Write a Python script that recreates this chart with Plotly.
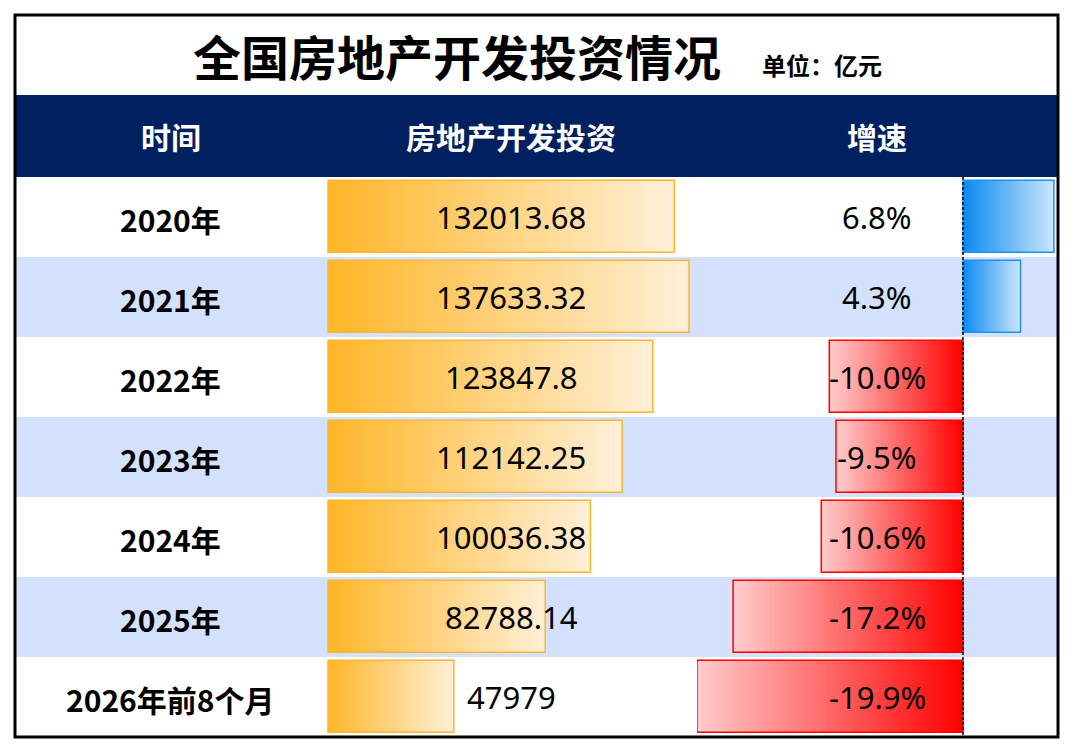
import plotly.graph_objects as go

# --- Données ---
periods = ["2020年", "2021年", "2022年", "2023年", "2024年", "2025年", "2026年前8个月"]
investment = [132013.68, 137633.32, 123847.8, 112142.25, 100036.38, 82788.14, 47979]
growth = [6.8, 4.3, -10.0, -9.5, -10.6, -17.2, -19.9]
headers = ["时间", "房地产开发投资", "增速"]
title = "全国房地产开发投资情况"
unit = "单位：亿元"

# the page body keeps an 8px margin, so the figure is a bit smaller and all
# layout positions below are given in page pixels, shifted by OFF
OFF = 8
W, H = 1076 - 2 * OFF, 754 - 2 * OFF
CJK = "Noto Sans CJK SC"
NUM = "Noto Sans, Noto Sans CJK SC"


def px(v):
    return (v - OFF) / W


def py(v):
    return 1 - (v - OFF) / H


# row i centre at page pixel 217 + 80*i -> y axis in "row" units
y_top = (OFF - 217) / 80
y_bot = (OFF + H - 217) / 80

inv_max = max(investment)
inv_scale = 361 / inv_max                      # px per unit
inv_range = [(327 - 328) / inv_scale, (697 - 328) / inv_scale]
gr_scale = 13.37                                # px per %
gr_range = [(697 - 963) / gr_scale, (1058 - 963) / gr_scale]

fig = go.Figure()

BT, BB = -0.46, 0.44   # bar top / bottom offsets inside a row

# investment data bars
for i, v in enumerate(investment):
    fig.add_trace(go.Scatter(
        x=[0, v, v, 0, 0], y=[i + BT, i + BT, i + BB, i + BB, i + BT],
        xaxis="x", yaxis="y", mode="lines", fill="toself",
        line=dict(color="#FFB628", width=1.5),
        fillgradient=dict(type="horizontal", colorscale=[[0, "#FFB628"], [1, "#FFF0D8"]]),
        hoverinfo="skip", showlegend=False))

# growth data bars
for i, g in enumerate(growth):
    if g >= 0:
        cs = [[0, "#0A8AF0"], [1, "#CBE6FA"]]
        lc = "#1E90F0"
    else:
        cs = [[0, "#FFCCCC"], [1, "#FF0000"]]
        lc = "#FF0000"
    fig.add_trace(go.Scatter(
        x=[0, g, g, 0, 0], y=[i + BT, i + BT, i + BB, i + BB, i + BT],
        xaxis="x2", yaxis="y", mode="lines", fill="toself",
        line=dict(color=lc, width=1.5),
        fillgradient=dict(type="horizontal", colorscale=cs),
        hoverinfo="skip", showlegend=False))

shapes = []
# alternating row backgrounds
for i in range(len(periods)):
    shapes.append(dict(type="rect", xref="paper", yref="y", layer="below",
                       x0=px(15), x1=px(1058), y0=i - 0.5, y1=i + 0.5,
                       fillcolor="#D4E1FC" if i % 2 == 1 else "white", line=dict(width=0)))
# header band
shapes.append(dict(type="rect", xref="paper", yref="y", layer="below",
                   x0=px(15), x1=px(1058), y0=-1.525, y1=-0.5,
                   fillcolor="#002060", line=dict(width=0)))
# axis of the growth bars
shapes.append(dict(type="line", xref="x2", yref="y", x0=0, x1=0, y0=-0.5, y1=len(periods) - 0.5,
                   line=dict(color="black", width=1.5, dash="3px,2px")))
# outer frame
shapes.append(dict(type="rect", xref="paper", yref="paper",
                   x0=px(15), x1=px(1058), y0=py(15), y1=py(737),
                   line=dict(color="black", width=3)))

ann = []


def label(text, x, y, size, color="black", weight="normal", family=CJK):
    ann.append(dict(text=text, xref="paper", yref="y", x=px(x), y=y, showarrow=False,
                    xanchor="center", yanchor="middle",
                    font=dict(family=family, size=size, color=color, weight=weight)))


label(title, 457, -2.02, 48, weight="bold")
label(unit, 822, -1.91, 24, weight="bold")
for hx, h in zip([171, 511, 877], headers):
    label(h, hx, -1.01, 30, color="white", weight="bold")
for i, (p, v, g) in enumerate(zip(periods, investment, growth)):
    label(p, 170, i + 0.02, 30, weight="bold")
    label(str(v), 511, i, 31, family=NUM)
    label(f"{g:.1f}%", 877, i, 31, family=NUM)

fig.update_layout(
    width=W, height=H, margin=dict(l=0, r=0, t=0, b=0),
    paper_bgcolor="white", plot_bgcolor="rgba(0,0,0,0)",
    xaxis=dict(domain=[px(327), px(697)], range=inv_range, visible=False, fixedrange=True),
    xaxis2=dict(domain=[px(697), px(1058)], range=gr_range, visible=False, fixedrange=True, anchor="y"),
    yaxis=dict(domain=[0, 1], range=[y_bot, y_top], visible=False, fixedrange=True),
    shapes=shapes, annotations=ann, showlegend=False,
)

fig.write_html("out.html")
